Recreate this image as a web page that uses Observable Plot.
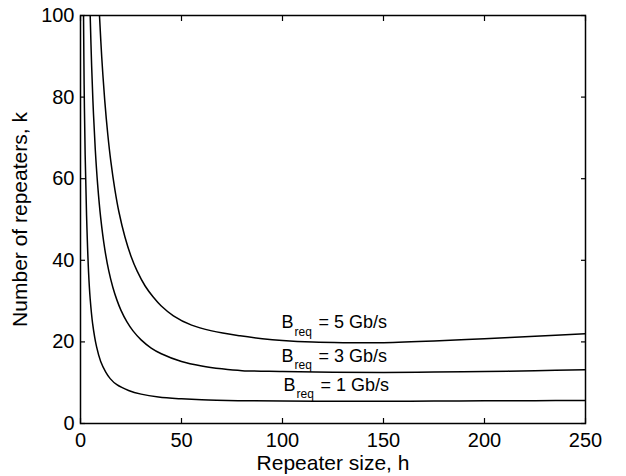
<!DOCTYPE html>
<html><head><meta charset="utf-8">
<script src="https://cdn.jsdelivr.net/npm/d3@7"></script>
<script src="https://cdn.jsdelivr.net/npm/@observablehq/plot@0.6"></script>
<style>
body{margin:0;background:#fff;}
#chart svg{font-family:"Liberation Sans",Arial,Helvetica,sans-serif;background:#fff;}
</style>
</head><body><div id="chart"></div>
<script>
const xTicks = [0, 50, 100, 150, 200, 250];
const yTicks = [0, 20, 40, 60, 80, 100];

// B_req = 1 Gb/s
const h1 = [1.5, 1.8, 2.3, 3, 4, 4.8, 6, 8, 10, 12.5, 14.7, 18, 23.8, 30, 38.6, 50, 60, 78, 100, 125, 150, 175, 200, 225, 250];
const k1 = [100, 83, 66, 51, 37, 30.5, 24.5, 18.7, 15.2, 12.6, 11, 9.5, 8.1, 7.2, 6.5, 6.05, 5.8, 5.6, 5.5, 5.45, 5.45, 5.5, 5.55, 5.6, 5.65];

// B_req = 3 Gb/s
const h3 = [4.8, 5.5, 6.3, 7.3, 8.5, 10, 12, 14, 16, 18, 20, 23, 26, 30, 35, 40, 50, 60, 70, 80, 100, 125, 150, 175, 200, 225, 250];
const k3 = [100, 87.8, 77.3, 67.3, 58.5, 50.4, 42.8, 37.4, 33.4, 30.3, 27.8, 24.9, 22.7, 20.5, 18.5, 17.1, 15.2, 14.1, 13.4, 12.95, 12.75, 12.55, 12.5, 12.6, 12.75, 12.95, 13.2];

// B_req = 5 Gb/s
const h5 = [9.4, 10.5, 12, 13.5, 15, 17, 19, 22, 25, 28, 32, 36, 40, 46, 55, 65, 79, 90, 100, 115, 130, 150, 175, 200, 225, 250];
const k5 = [100, 89.9, 79.2, 70.9, 64.3, 57.4, 51.9, 45.7, 41, 37.4, 33.7, 31, 28.8, 26.4, 24.1, 22.7, 21.5, 20.8, 20.35, 19.95, 19.8, 19.8, 20.2, 20.8, 21.4, 22];

const rates = ["5", "3", "1"];
const labelH = [99.5, 99.5, 100.5];
const labelK = [24.7, 16.4, 9.5];

const series = [
  {name: "1", h: h1, k: k1},
  {name: "3", h: h3, k: k3},
  {name: "5", h: h5, k: k5}
];
const data = series.flatMap(s => s.h.map((h, i) => ({series: s.name, h, k: s.k[i]})));
const labels = rates.map((r, i) => ({rate: r, h: labelH[i], k: labelK[i]}));

const chart = Plot.plot({
  width: 626,
  height: 476,
  marginLeft: 80,
  marginRight: 41,
  marginTop: 15,
  marginBottom: 53,
  style: {fontSize: "20px", fontFamily: "Liberation Sans, Arial, Helvetica, sans-serif", color: "black"},
  x: {domain: [0, 250], label: null},
  y: {domain: [0, 100], label: null},
  marks: [
    Plot.line(data, {x: "h", y: "k", z: "series", stroke: "black", strokeWidth: 1.5, curve: "catmull-rom", clip: true}),
    Plot.axisX(xTicks, {anchor: "bottom", tickSize: -5, tickPadding: 14, fontSize: 20, label: null, stroke: "black", strokeWidth: 1.2}),
    Plot.axisX(xTicks, {anchor: "top", tickSize: -5, tickFormat: () => "", label: null, stroke: "black", strokeWidth: 1.2}),
    Plot.axisY(yTicks, {anchor: "left", tickSize: -5, tickPadding: 11, fontSize: 20, label: null, stroke: "black", strokeWidth: 1.2}),
    Plot.axisY(yTicks, {anchor: "right", tickSize: -5, tickFormat: () => "", label: null, stroke: "black", strokeWidth: 1.2}),
    Plot.frame({stroke: "black", strokeWidth: 1.5}),
    Plot.text(labels, {x: "h", y: "k", text: () => "B", textAnchor: "start", fontSize: 18, fill: "black"}),
    Plot.text(labels, {x: "h", y: "k", text: () => "req", textAnchor: "start", fontSize: 12, dx: 13, dy: 9, fill: "black"}),
    Plot.text(labels, {x: "h", y: "k", text: d => `= ${d.rate} Gb/s`, textAnchor: "start", fontSize: 18, dx: 37, fill: "black"}),
    Plot.text(["Repeater size, h"], {text: d => d, frameAnchor: "bottom", textAnchor: "middle", lineAnchor: "middle", dy: 40, fontSize: 21, fill: "black"}),
    Plot.text(["Number of repeaters, k"], {text: d => d, frameAnchor: "left", textAnchor: "middle", lineAnchor: "middle", rotate: -90, dx: -60, fontSize: 21, fill: "black"})
  ]
});
document.getElementById("chart").appendChild(chart);
</script>
</body></html>
